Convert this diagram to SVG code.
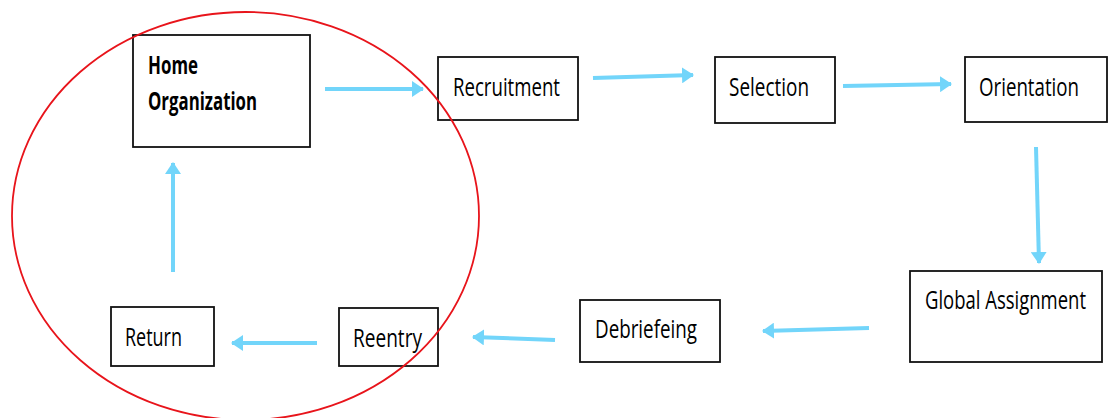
<svg xmlns="http://www.w3.org/2000/svg" width="1108" height="418" viewBox="0 0 1108 418">
<defs>
<style>
.box{fill:#fff;stroke:#111;stroke-width:1.8}
.t{font-family:"Open Sans","Liberation Sans",sans-serif;font-size:25px;fill:#000}
.b{font-weight:bold}
.c{stroke:#72D5FA;stroke-width:4;fill:none;marker-end:url(#ah)}
</style>
<marker id="ah" viewBox="0 0 12 16" refX="11" refY="8" markerWidth="3" markerHeight="4" markerUnits="strokeWidth" orient="auto">
<path d="M0,0 L12,8 L0,16 Z" fill="#72D5FA"/>
</marker>
</defs>
<rect width="1108" height="418" fill="#fff"/>
<g id="home"><rect class="box" x="133" y="35" width="177" height="112"/>
<text class="t b" x="148" y="74" textLength="50" lengthAdjust="spacingAndGlyphs">Home</text>
<text class="t b" x="148" y="110" textLength="109" lengthAdjust="spacingAndGlyphs">Organization</text></g>
<g id="recruitment"><rect class="box" x="438" y="57" width="140" height="63"/>
<text class="t" x="453" y="96" textLength="107" lengthAdjust="spacingAndGlyphs">Recruitment</text></g>
<g id="selection"><rect class="box" x="715" y="57" width="120" height="66"/>
<text class="t" x="729" y="96" textLength="80" lengthAdjust="spacingAndGlyphs">Selection</text></g>
<g id="orientation"><rect class="box" x="965" y="57" width="142" height="65"/>
<text class="t" x="979" y="96" textLength="100" lengthAdjust="spacingAndGlyphs">Orientation</text></g>
<g id="global"><rect class="box" x="910" y="271" width="192" height="91"/>
<text class="t" x="925" y="309" textLength="161" lengthAdjust="spacingAndGlyphs">Global Assignment</text></g>
<g id="debriefeing"><rect class="box" x="580" y="300" width="140" height="62"/>
<text class="t" x="595" y="338" textLength="102" lengthAdjust="spacingAndGlyphs">Debriefeing</text></g>
<g id="reentry"><rect class="box" x="339" y="308" width="99" height="58"/>
<text class="t" x="353" y="347" textLength="69" lengthAdjust="spacingAndGlyphs">Reentry</text></g>
<g id="return"><rect class="box" x="111" y="307" width="103" height="59"/>
<text class="t" x="125" y="346" textLength="57" lengthAdjust="spacingAndGlyphs">Return</text></g>
<g id="connectors">
<line class="c" x1="325" y1="89" x2="423" y2="89"/>
<line class="c" x1="593" y1="78" x2="693" y2="75"/>
<line class="c" x1="843" y1="86" x2="951" y2="84"/>
<line class="c" x1="1036" y1="147" x2="1039" y2="263"/>
<line class="c" x1="869" y1="328" x2="763" y2="331"/>
<line class="c" x1="555" y1="340" x2="473" y2="337"/>
<line class="c" x1="317" y1="343" x2="232" y2="343"/>
<line class="c" x1="173" y1="272" x2="173" y2="163"/>
</g>
<ellipse id="circle" cx="245.5" cy="216" rx="233.5" ry="204" fill="none" stroke="#E8141B" stroke-width="1.8"/>
</svg>
